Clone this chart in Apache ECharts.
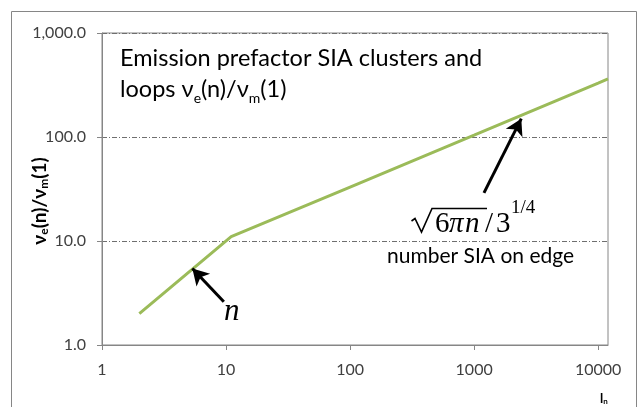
<!DOCTYPE html>
<html>
<head>
<meta charset="utf-8">
<script src="https://cdn.jsdelivr.net/npm/echarts@6/dist/echarts.min.js"></script>
<style>html,body{margin:0;padding:0;background:#fff}#c{width:643px;height:407px}</style>
</head>
<body>
<div id="c"></div>
<script>
// ---- data ----
var nValues  = [2, 11, 100, 1000, 10000, 12000];
var nuValues = [2, 11, 33, 104, 330, 362];
var xTickLabels = ['1', '10', '100', '1000', '10000'];
var yTickLabels = ['1.0', '10.0', '100.0', '1,000.0'];
// arrows: [tail, tip] in data coordinates
var arrowLinear = [[9.6, 2.6], [5.35, 5.45]];
var arrowSqrt   = [[1200, 29], [2400, 150]];

var chart = echarts.init(document.getElementById('c'), null, {renderer: 'canvas'});
var seriesData = nValues.map(function (n, i) { return [n, nuValues[i]]; });
var FONT = 'Lato, "Open Sans", sans-serif';
var SERIF = '"Liberation Serif", "DejaVu Serif", serif';
var axisGray = '#868686';

function decadeLabel(labels) {
  return function (v) {
    var l = Math.log10(v), i = Math.round(l);
    return Math.abs(l - i) < 1e-6 && labels[i] !== undefined ? labels[i] : '';
  };
}

chart.setOption({
  animation: false,
  backgroundColor: '#fff',
  grid: {left: 102, top: 33, right: 35, bottom: 62, show: true, borderColor: axisGray, borderWidth: 1, containLabel: false},
  xAxis: {
    type: 'log', logBase: 10, min: 1, max: 12000,
    axisLine: {show: true, lineStyle: {color: axisGray, width: 1}},
    axisTick: {show: true, inside: false, length: 5, lineStyle: {color: axisGray}},
    minorTick: {show: false},
    splitLine: {show: false},
    axisLabel: {show: true, showMaxLabel: false, margin: 17, color: '#404040', fontSize: 16, fontFamily: FONT, formatter: decadeLabel(xTickLabels)}
  },
  yAxis: {
    type: 'log', logBase: 10, min: 1, max: 1000,
    axisLine: {show: true, lineStyle: {color: axisGray, width: 1}},
    axisTick: {show: true, inside: false, length: 5, lineStyle: {color: axisGray}},
    splitLine: {show: true, lineStyle: {color: '#6f6f6f', width: 1, type: [5, 2, 1, 2]}},
    axisLabel: {margin: 16, color: '#404040', fontSize: 16, fontFamily: FONT, formatter: decadeLabel(yTickLabels)}
  },
  series: [{
    type: 'line',
    data: seriesData,
    symbol: 'none',
    lineStyle: {color: '#9BBB59', width: 3},
    clip: true,
    markLine: {
      silent: true,
      symbol: ['none', 'arrow'],
      symbolSize: [14, 16],
      lineStyle: {color: '#000', width: 3, type: 'solid'},
      label: {show: false},
      data: [
        [{coord: arrowLinear[0]}, {coord: arrowLinear[1]}],
        [{coord: arrowSqrt[0]}, {coord: arrowSqrt[1]}]
      ]
    }
  }],
  graphic: [
    {type: 'rect', z: -100, shape: {x: 11.5, y: 11.5, width: 625, height: 430}, style: {fill: 'none', stroke: axisGray, lineWidth: 1}},
    // y-axis title
    {type: 'text', x: 40, y: 201, rotation: Math.PI / 2, style: {
      text: '\u03bd{s|e}(n)/\u03bd{s|m}(1)', align: 'center', verticalAlign: 'middle',
      fill: '#000', font: 'bold 19px ' + FONT,
      rich: {s: {fontSize: 12, fontWeight: 'bold', fontFamily: FONT, verticalAlign: 'bottom', padding: [9, 0, 0, 0]}}
    }},
    // x-axis title
    {type: 'text', left: 600, top: 392, style: {text: 'l{s|n}', fill: '#000', font: 'bold 13px ' + FONT,
      rich: {s: {fontSize: 8, fontWeight: 'bold', fontFamily: FONT, verticalAlign: 'bottom', padding: [5, 0, 0, 0]}}}},
    // in-plot title
    {type: 'text', left: 120, top: 43, style: {
      text: 'Emission prefactor SIA clusters and\nloops \u03bd{s|e}(n)/\u03bd{s|m}(1)',
      fill: '#000', font: '23.5px ' + FONT, lineHeight: 31,
      rich: {s: {fontSize: 14, fontFamily: FONT, verticalAlign: 'bottom', padding: [11, 0, 0, 0]}}
    }},
    // annotations
    {type: 'text', left: 224, top: 296, style: {text: 'n', fill: '#000', font: 'italic 31px ' + SERIF}},
    {type: 'polyline', shape: {points: [[411.5, 221], [415, 218.5], [421.5, 232], [432, 208.5], [487, 208.5]]}, style: {stroke: '#000', lineWidth: 1.6, fill: 'none'}},
    {type: 'text', x: 435, y: 210, style: {text: '6', fill: '#000', font: '29px ' + SERIF}},
    {type: 'text', x: 449, y: 210, style: {text: '\u03c0', fill: '#000', font: 'italic 29px ' + SERIF}},
    {type: 'text', x: 465, y: 210, style: {text: 'n', fill: '#000', font: 'italic 29px ' + SERIF}},
    {type: 'text', x: 485, y: 210, style: {text: '/', fill: '#000', font: '29px ' + SERIF}},
    {type: 'text', x: 496, y: 210, style: {text: '3', fill: '#000', font: '29px ' + SERIF}},
    {type: 'text', x: 511, y: 199, style: {text: '1/4', fill: '#000', font: '19px ' + SERIF}},
    {type: 'text', left: 387, top: 246, style: {text: 'number SIA on edge', fill: '#000', font: '21px ' + FONT}}
  ]
});
</script>
</body>
</html>
